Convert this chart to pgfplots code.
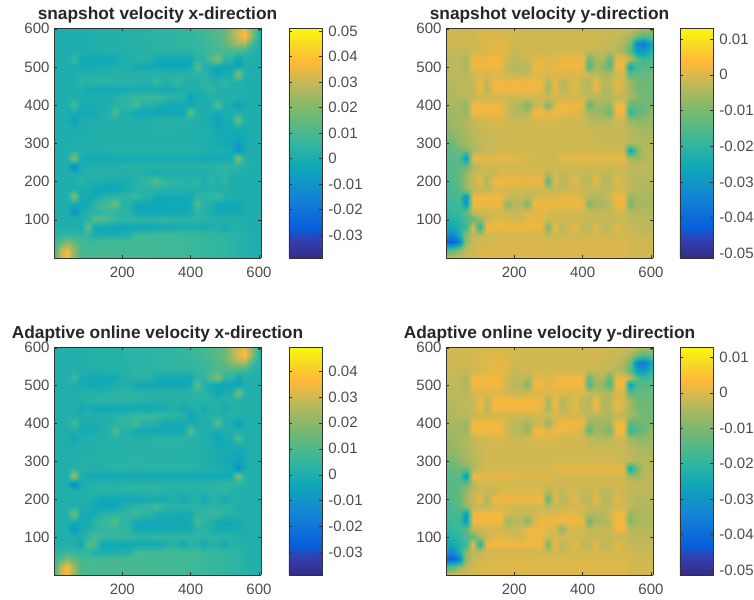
\documentclass[border=0pt]{standalone}
\usepackage{fontspec}
\setmainfont{Liberation Sans}
\usepackage{pgfplots}
\usepgfplotslibrary{patchplots}
\pgfplotsset{compat=1.18}
\pgfplotsset{colormap={parula}{
rgb(0pt)=(0.21,0.17,0.53);
rgb(8pt)=(0.2,0.25,0.7);
rgb(13pt)=(0.03,0.37,0.86);
rgb(27pt)=(0.08,0.52,0.83);
rgb(40pt)=(0.06,0.66,0.72);
rgb(51pt)=(0.22,0.72,0.61);
rgb(65pt)=(0.5,0.72,0.42);
rgb(76pt)=(0.76,0.72,0.35);
rgb(85pt)=(1.0,0.72,0.22);
rgb(93pt)=(0.97,0.85,0.15);
rgb(100pt)=(0.98,0.98,0.05)}}
\newcount\gx
\newcommand\startgrid{\gdef\gridlist{}}
\newcommand\G[2]{\gx=0
 \pgfplotsforeachungrouped \gv in {#2}{%
  \xdef\gridlist{\gridlist(\the\gx,#1,\gv e-3) }\xdef\lastv{\gv}%
  \advance\gx by 20 }%
 \xdef\gridlist{\gridlist(606,#1,\lastv e-3) }}
% --- snapshot velocity x-direction, values in units of 0.001 ---
\startgrid
\G{602}{1,1,1,1,1,1,2,2,2,2,2,3,3,3,3,4,4,4,5,5,6,7,8,10,12,15,24,30,34,20,4}
\G{580}{1,1,1,1,1,1,2,2,2,2,2,3,3,3,3,4,4,4,5,5,6,7,8,10,12,15,24,32,40,22,3}
\G{560}{1,1,1,1,1,1,2,2,2,2,2,3,3,3,3,4,4,4,4,5,5,6,7,9,11,13,20,24,26,9,2}
\G{540}{1,1,1,1,1,1,1,1,2,2,2,2,3,3,3,3,4,4,4,4,4,5,6,8,10,10,10,9,7,2,1}
\G{520}{1,1,1,7,-2,-2,-3,-3,-3,-3,1,2,3,3,3,-2,-3,-3,-3,-3,-3,3,5,11,22,5,4,-5,2,1,1}
\G{500}{1,1,1,-1,-2,-2,-1,0,0,1,1,1,-2,-3,-3,-3,-3,-3,-3,-3,-2,14,1,0,-4,-4,-4,-4,1,1,1}
\G{480}{1,1,1,1,2,2,2,2,2,3,3,3,3,3,3,3,3,3,3,3,3,3,3,1,-4,-1,1,22,2,1,1}
\G{460}{1,1,1,1,5,3,4,4,4,3,3,3,3,2,2,7,2,2,7,2,2,2,6,2,2,6,2,2,1,1,1}
\G{440}{1,1,1,1,0,-2,-2,-2,-2,-2,-2,-1,-1,-1,-1,-1,-2,-2,0,1,2,2,2,7,2,2,2,2,1,1,1}
\G{420}{1,1,1,1,1,1,1,1,1,2,4,5,7,8,8,7,7,4,3,3,-5,-1,1,2,2,2,2,2,1,1,1}
\G{400}{1,1,1,9,-1,-1,0,1,1,3,4,5,10,2,3,1,-2,-2,-2,-2,-2,0,1,1,13,1,0,-6,0,1,1}
\G{380}{1,1,0,0,-2,-2,-2,1,2,11,2,2,-3,-3,-3,-3,-3,-3,-3,-3,14,1,1,0,-1,0,1,1,1,1,1}
\G{360}{1,1,0,-6,0,1,2,2,2,2,2,2,2,2,2,3,3,3,3,3,2,2,1,-1,-6,-1,0,16,1,1,1}
\G{340}{1,1,1,0,1,1,1,2,2,2,2,2,2,2,2,3,3,3,3,2,2,2,1,0,-2,-2,-1,0,0,1,1}
\G{320}{1,1,1,1,1,1,2,2,2,2,2,2,2,2,2,2,2,2,2,2,2,2,1,0,-1,-2,-2,-3,-1,1,1}
\G{300}{1,1,1,1,2,2,2,2,2,2,2,2,2,2,2,2,2,2,2,2,2,2,1,0,-1,-2,-3,-7,-2,1,1}
\G{280}{1,1,1,3,2,2,2,2,3,3,3,3,3,3,3,3,3,3,3,3,3,3,2,1,1,0,-1,-11,-1,1,1}
\G{260}{1,1,1,22,-1,-2,-2,-2,-2,-2,-2,-2,-2,-2,-2,-2,-2,-2,-2,-2,-2,-2,-2,-2,-2,-2,-2,20,2,1,1}
\G{240}{1,1,0,-14,0,1,2,2,2,2,3,3,3,3,3,3,3,3,3,3,3,3,3,3,4,5,4,4,2,1,1}
\G{220}{1,1,1,1,1,3,4,3,3,3,2,2,2,2,1,-3,0,1,1,1,1,1,1,2,3,4,2,2,1,1,1}
\G{200}{1,1,1,1,4,1,2,1,-1,-1,-1,0,3,5,6,14,7,6,4,4,3,5,0,5,0,6,0,1,1,1,1}
\G{180}{1,1,1,1,0,1,-4,-4,-4,-4,-1,1,2,3,3,3,3,2,2,2,2,2,2,2,2,2,1,1,1,1,1}
\G{160}{1,1,1,22,-2,-2,-2,3,3,4,4,5,8,3,3,-2,-2,-2,-2,-2,-2,4,4,5,8,3,2,1,1,1,1}
\G{140}{1,1,0,-2,-2,-2,5,8,10,17,3,3,-3,-3,-3,-3,-3,-3,-3,-3,-2,12,3,2,-3,-3,-3,-3,0,1,1}
\G{120}{1,1,0,-11,-1,2,4,6,6,5,4,4,-3,-3,-3,-3,-3,-2,-2,-2,-1,3,2,1,-2,-2,-2,-2,0,1,1}
\G{100}{1,1,1,1,1,3,14,12,10,6,5,5,5,4,4,5,5,4,4,4,4,4,3,3,3,3,3,2,1,1,1}
\G{80}{1,1,1,1,-1,16,-3,-3,-3,-3,-3,-3,-3,-3,-3,-2,-1,-2,-1,-1,0,0,-1,1,1,-2,2,2,1,1,1}
\G{60}{3,4,5,5,5,5,0,0,0,0,1,1,8,8,8,8,8,8,8,8,7,7,6,6,5,5,4,3,2,1,1}
\G{40}{4,12,20,14,8,8,8,9,9,9,9,9,9,9,9,8,8,8,8,8,7,7,6,6,5,5,4,3,2,1,1}
\G{20}{5,28,36,22,10,9,9,9,9,9,9,9,9,9,9,8,8,8,8,8,7,7,6,6,5,5,4,3,2,1,1}
\G{0}{5,30,38,22,10,9,9,9,9,9,9,9,9,9,9,8,8,8,8,8,7,7,6,6,5,5,4,3,2,1,1}
\global\let\gridA\gridlist
% --- snapshot velocity y-direction ---
\startgrid
\G{602}{-1,-1,-1,-1,-1,-1,-1,-1,-1,-1,-1,-1,-1,-1,-1,-1,-1,-1,-1,-1,-1,-1,-1,-1,-1,-1,-1,-2,-3,-5,-6}
\G{580}{-1,-1,-1,-1,-1,0,0,0,0,0,-1,-1,-1,-1,-1,-1,-1,-1,-1,-1,-1,-1,-1,-1,-2,-2,-3,-5,-11,-15,-12}
\G{560}{-1,-1,-1,-1,-1,0,0,1,1,0,-1,-1,-1,-1,-1,-1,-1,-1,-1,-1,-1,-1,-1,-2,-2,-3,-5,-11,-34,-38,-28}
\G{540}{-2,-2,-2,-2,-1,-1,0,1,1,0,-2,-1,-1,-1,-1,-1,-1,-1,-1,-1,-1,-2,-2,-3,-3,-4,-6,-14,-28,-30,-22}
\G{520}{-3,-3,-3,-5,2,2,2,2,2,-1,-3,-2,-1,0,1,0,1,2,2,2,2,-12,-5,-4,-14,1,2,-2,-14,-18,-16}
\G{500}{-3,-3,-3,-5,2,2,2,2,2,-2,-5,-3,-5,2,2,0,2,2,2,2,2,-16,-6,-8,-16,2,2,-28,-16,-15,-14}
\G{480}{-4,-3,-3,-4,-1,0,0,0,0,-1,-2,-2,-1,0,0,0,0,0,0,0,0,-2,-3,-4,-4,-1,-1,-14,-13,-13,-12}
\G{460}{-4,-4,-3,-3,-2,2,-3,2,2,2,2,2,2,2,2,-5,2,-4,-2,1,-3,-4,2,-4,-4,1,-1,-6,-11,-12,-12}
\G{440}{-5,-4,-3,-3,-2,2,-4,2,2,2,2,2,2,2,1,-6,2,-4,-1,1,-3,-4,2,-4,-4,1,-1,-6,-11,-12,-12}
\G{420}{-5,-4,-4,-3,-2,-1,-1,-1,-1,-1,-1,-1,-1,-1,-1,-1,-1,-1,-1,-1,-1,-3,-4,-4,-4,-3,-3,-5,-8,-11,-11}
\G{400}{-6,-5,-5,-8,2,2,2,2,2,-1,-4,-5,-10,-2,-1,-10,0,2,2,2,2,-14,-6,-6,-8,2,2,-14,-13,-12,-11}
\G{380}{-6,-6,-6,-7,2,2,2,2,2,-2,-4,-4,-5,2,2,1,2,2,1,1,-1,-6,-6,-7,-12,2,2,-20,-14,-12,-8}
\G{360}{-7,-6,-5,-5,-2,-1,-1,0,0,-1,-2,-2,-1,0,0,0,0,-1,-1,-1,-1,-3,-4,-4,-4,-1,-1,-7,-8,-8,-7}
\G{340}{-8,-7,-6,-4,-3,-2,-1,-1,-1,-1,-1,-1,-1,-1,-1,-1,-1,-1,-1,-1,-1,-2,-2,-2,-2,-2,-2,-4,-5,-6,-6}
\G{320}{-11,-8,-7,-5,-3,-2,-2,-2,-1,-1,-1,-1,-1,-1,-1,-1,-1,-1,-1,-1,-1,-1,-2,-2,-2,-2,-2,-4,-4,-5,-5}
\G{300}{-13,-12,-8,-6,-4,-3,-2,-2,-1,-1,-1,-1,-1,-1,-1,-1,-1,-1,-1,-1,-1,-1,-1,-2,-2,-2,-2,-4,-4,-4,-4}
\G{280}{-14,-13,-12,-11,-5,-3,-2,-2,-1,-1,-1,-1,-1,-1,-1,-1,-1,-1,-1,-1,-1,-1,-1,-1,-1,-1,-1,-28,-12,-4,-4}
\G{260}{-15,-14,-14,-30,2,1,1,1,1,1,1,0,0,-1,-1,-1,-1,1,1,1,1,1,1,1,1,1,2,-6,-6,-4,-3}
\G{240}{-15,-15,-14,-12,-4,-2,-1,-1,-1,-1,-1,-1,-1,-1,-1,-1,-1,-1,-1,-1,-1,-1,-1,-1,-1,-1,-1,-2,-3,-3,-3}
\G{220}{-15,-15,-13,-7,-3,-1,-2,-3,0,0,0,0,0,0,0,-4,-1,-3,-1,-1,-2,-2,-1,-3,-3,-1,-2,-3,-3,-3,-3}
\G{200}{-16,-15,-13,-6,-2,2,-5,2,2,2,2,1,2,2,2,-14,1,-4,-2,1,-3,-4,2,-4,-4,1,-1,-3,-4,-4,-4}
\G{180}{-17,-16,-14,-7,-3,-2,-3,-1,0,-1,-1,-1,-1,-1,-1,-3,-2,-2,-1,-1,-1,-2,-2,-3,-3,-1,-1,-3,-4,-4,-4}
\G{160}{-18,-17,-16,-30,2,2,2,2,2,-1,-2,-2,-3,-1,0,0,0,1,1,1,-1,-4,-4,-4,-1,2,2,-8,-5,-5,-5}
\G{140}{-19,-18,-17,-30,2,2,2,2,2,-8,-4,-4,-10,2,2,2,2,2,2,2,2,-9,-5,-5,-4,2,2,-10,-5,-5,-5}
\G{120}{-20,-19,-18,-14,-2,-1,-1,-1,-1,-2,-2,-1,0,1,1,0,-1,-1,-1,-1,-1,-2,-2,-2,-2,-1,-1,-4,-4,-4,-4}
\G{100}{-23,-22,-20,-16,-13,-6,-2,0,1,0,-1,-1,1,1,1,-1,-1,-1,-1,-1,-1,-2,-2,-2,-2,-2,-2,-3,-3,-3,-3}
\G{80}{-26,-25,-22,-18,1,-22,2,2,2,2,2,2,2,2,2,-10,2,-4,-1,1,-3,-3,1,-3,-3,1,-1,-2,-3,-3,-3}
\G{60}{-32,-34,-24,-8,-3,-3,-1,-1,-1,-1,-1,-1,-1,-1,-1,-2,-1,-2,-1,-1,-1,-1,-1,-1,-1,-1,-1,-1,-2,-2,-2}
\G{40}{-42,-42,-36,-7,-2,-1,-1,0,0,0,0,0,0,0,0,0,0,0,0,0,0,0,0,0,0,0,0,-1,-1,-1,-1}
\G{20}{-16,-14,-8,-3,-1,0,0,0,0,0,0,0,0,0,0,0,0,0,0,0,0,0,0,0,0,0,0,-1,-1,-1,-1}
\G{0}{-2,-2,-1,-1,-1,0,0,0,0,0,0,0,0,0,0,0,0,0,0,0,0,0,0,0,0,0,0,-1,-1,-1,-1}
\global\let\gridB\gridlist
% --- adaptive online velocity x-direction ---
\startgrid
\G{602}{1,1,1,1,1,1,2,2,2,2,2,3,3,3,3,4,4,4,5,5,6,7,8,10,12,15,24,30,33,20,4}
\G{580}{1,1,1,1,1,1,2,2,2,2,2,3,3,3,3,4,4,4,5,5,6,7,8,10,12,15,24,32,38,22,3}
\G{560}{1,1,1,1,1,1,2,2,2,2,2,3,3,3,3,4,4,4,4,5,5,6,7,9,11,13,20,24,26,9,2}
\G{540}{1,1,1,1,1,1,1,1,2,2,2,2,3,3,3,3,4,4,4,4,4,5,6,8,10,10,10,9,7,2,1}
\G{520}{1,1,1,7,-1,-2,-3,-3,-3,-3,1,2,3,3,3,-2,-3,-3,-3,-3,-3,3,5,11,20,4,3,-5,2,1,1}
\G{500}{1,1,1,-1,-2,-2,-3,-2,-1,1,1,1,-3,-3,-3,-3,-3,-3,-3,-3,-2,13,1,-1,-5,-4,-4,-4,0,1,1}
\G{480}{1,1,1,1,2,2,2,2,2,3,3,3,3,3,3,3,3,3,3,3,3,3,3,1,-4,0,1,18,2,1,1}
\G{460}{1,1,1,1,1,2,3,3,3,3,3,3,3,2,2,2,2,2,2,2,2,2,2,2,2,2,2,2,1,1,1}
\G{440}{1,1,1,1,-3,0,-3,-3,-3,-3,-3,-3,-3,-3,-3,-2,-3,1,1,-3,1,2,-3,2,2,-3,2,2,1,1,1}
\G{420}{1,1,1,1,1,1,1,1,1,2,3,4,6,7,7,6,6,4,3,3,-5,-1,1,2,2,2,2,2,1,1,1}
\G{400}{1,1,1,8,-1,-1,0,1,1,3,4,5,9,2,3,1,-2,-2,-2,-2,-2,0,1,1,13,1,0,-6,0,1,1}
\G{380}{1,1,0,0,-2,-2,-2,1,2,11,2,2,-3,-3,-3,-3,-3,-3,-3,-3,13,1,1,0,-1,0,1,1,1,1,1}
\G{360}{1,1,0,-4,0,1,2,2,2,2,2,2,2,2,2,3,3,3,3,3,2,2,1,-1,-5,-1,0,10,1,1,1}
\G{340}{1,1,1,0,1,1,1,2,2,2,2,2,2,2,2,3,3,3,3,2,2,2,1,0,-2,-2,-1,-1,0,1,1}
\G{320}{1,1,1,1,1,1,2,2,2,2,2,2,2,2,2,2,2,2,2,2,2,2,1,0,-1,-2,-2,-3,-1,1,1}
\G{300}{1,1,1,1,2,2,2,2,2,2,2,3,3,3,2,2,2,2,2,2,2,2,1,0,-1,-2,-3,-6,-2,1,1}
\G{280}{1,1,1,3,2,2,2,2,3,3,3,3,3,3,3,3,3,3,3,3,3,3,2,1,1,-1,-2,-13,-2,1,1}
\G{260}{1,1,1,25,-1,-2,-3,-3,-3,-3,-3,-3,-3,-3,-3,-3,-3,-3,-3,-3,-3,-3,-3,-3,-3,-3,-2,18,2,1,1}
\G{240}{1,1,0,-16,-1,1,2,2,2,2,3,3,3,3,3,3,3,3,3,3,3,3,3,3,4,5,4,4,2,1,1}
\G{220}{1,1,1,1,1,2,3,3,3,3,3,3,3,3,3,4,2,2,2,2,2,2,2,3,3,5,2,2,1,1,1}
\G{200}{1,1,1,1,0,1,-1,-3,-3,-3,-3,-3,-3,-2,-2,-2,-2,0,1,-3,1,2,-3,2,2,-3,2,1,1,1,1}
\G{180}{1,1,1,1,1,1,-4,-4,-4,-4,0,2,3,4,4,9,4,3,3,3,3,3,3,3,3,3,2,1,1,1,1}
\G{160}{1,1,1,18,-2,-2,-2,3,3,4,4,5,8,4,4,-1,-1,-2,-2,-2,-2,4,4,5,7,3,2,1,1,1,1}
\G{140}{1,1,0,-2,-2,-2,4,6,8,13,3,3,-3,-3,-3,-3,-3,-3,-3,-3,-2,10,3,2,-3,-3,-3,-2,0,1,1}
\G{120}{1,1,0,-10,-1,1,3,5,5,5,4,4,-3,-3,-3,-3,-3,-2,-2,-2,-2,3,2,1,-2,-2,-2,-2,0,1,1}
\G{100}{1,1,1,1,1,3,10,6,5,6,5,5,5,4,4,5,5,4,4,4,4,4,3,3,3,3,3,2,1,1,1}
\G{80}{1,1,1,1,-4,10,10,-3,-3,-3,-3,-3,-3,-3,-3,-3,-2,2,2,-3,2,2,-3,2,2,-3,2,2,1,1,1}
\G{60}{3,4,5,5,5,5,0,0,0,0,1,1,8,8,8,8,8,8,8,8,7,7,6,6,5,5,4,3,2,1,1}
\G{40}{4,12,20,14,8,8,8,9,9,9,9,9,9,9,9,8,8,8,8,8,7,7,6,6,5,5,4,3,2,1,1}
\G{20}{5,26,36,22,10,9,9,9,9,9,9,9,9,9,9,8,8,8,8,8,7,7,6,6,5,5,4,3,2,1,1}
\G{0}{5,30,36,22,10,9,9,9,9,9,9,9,9,9,9,8,8,8,8,8,7,7,6,6,5,5,4,3,2,1,1}
\global\let\gridC\gridlist
% --- adaptive online velocity y-direction ---
\startgrid
\G{602}{-1,-1,-1,-1,-1,-1,-1,-1,-1,-1,-1,-1,-1,-1,-1,-1,-1,-1,-1,-1,-1,-1,-1,-1,-1,-1,-1,-2,-3,-5,-6}
\G{580}{-1,-1,-1,-1,-1,0,0,0,0,0,-1,-1,-1,-1,-1,-1,-1,-1,-1,-1,-1,-1,-1,-1,-2,-2,-3,-5,-11,-15,-12}
\G{560}{-1,-1,-1,-1,-1,0,0,1,1,0,-1,-1,-1,-1,-1,-1,-1,-1,-1,-1,-1,-1,-1,-2,-2,-3,-5,-11,-34,-38,-28}
\G{540}{-2,-2,-2,-2,-1,-1,0,1,1,0,-2,-1,-1,-1,-1,-1,-1,-1,-1,-1,-1,-2,-2,-3,-3,-4,-6,-14,-28,-30,-22}
\G{520}{-2,-2,-2,-5,2,2,2,2,2,-1,-3,-2,-5,0,1,0,1,2,2,2,2,-13,-5,-4,-13,1,2,-2,-14,-18,-16}
\G{500}{-3,-3,-3,-5,2,2,2,2,2,-2,-4,-3,-10,2,2,0,2,2,2,2,2,-16,-6,-8,-16,2,2,-28,-16,-15,-14}
\G{480}{-4,-3,-3,-4,-1,0,0,0,0,-1,-2,-2,-1,0,0,0,0,0,0,0,0,-2,-3,-4,-4,-1,-1,-14,-13,-13,-12}
\G{460}{-4,-4,-3,-3,-2,2,-3,2,2,2,2,2,2,2,2,-5,2,-4,-2,1,-3,-4,2,-4,-4,1,-1,-6,-11,-12,-12}
\G{440}{-5,-4,-3,-3,-2,2,-4,2,2,2,2,2,2,2,1,-6,2,-4,-1,1,-3,-4,2,-4,-4,1,-1,-6,-11,-12,-12}
\G{420}{-5,-4,-4,-3,-2,-1,-1,-1,-1,-1,-1,-1,-1,-1,-1,-1,-1,-1,-1,-1,-1,-3,-4,-4,-4,-3,-3,-5,-8,-11,-11}
\G{400}{-6,-5,-5,-7,2,2,2,2,2,-1,-3,-4,-6,-2,-1,-8,0,2,2,2,2,-8,-6,-6,-7,2,2,-14,-13,-12,-11}
\G{380}{-6,-6,-6,-7,2,2,2,2,2,-2,-4,-4,-8,2,2,1,2,2,1,1,-1,-14,-6,-7,-12,2,2,-20,-14,-12,-8}
\G{360}{-7,-6,-5,-5,-2,-1,-1,0,0,-1,-2,-2,-1,0,0,0,0,-1,-1,-1,-1,-3,-4,-4,-4,-1,-1,-7,-8,-8,-7}
\G{340}{-8,-7,-6,-4,-3,-2,-1,-1,-1,-1,-1,-1,-1,-1,-1,-1,-1,-1,-1,-1,-1,-2,-2,-2,-2,-2,-2,-4,-5,-6,-6}
\G{320}{-8,-8,-7,-5,-3,-2,-1,-1,-1,-1,-1,-1,-1,-1,-1,-1,-1,-1,-1,-1,-1,-1,-1,-1,-1,-2,-2,-3,-4,-5,-5}
\G{300}{-12,-11,-8,-6,-4,-2,-1,-1,-1,-1,-1,-1,-1,-1,-1,-1,-1,-1,-1,-1,-1,-1,-1,-1,-1,-1,-2,-3,-4,-4,-4}
\G{280}{-14,-13,-12,-11,-5,-2,-1,-1,-1,-1,-1,-1,-1,-1,-1,-1,1,1,1,1,1,1,1,1,1,1,2,-28,-12,-4,-4}
\G{260}{-15,-14,-14,-30,2,1,1,1,1,1,1,0,0,0,0,0,-1,-1,-1,-1,-1,-1,-1,-1,-1,-1,-1,-6,-6,-4,-3}
\G{240}{-15,-15,-14,-12,-4,-1,-1,-1,-1,-1,-1,-1,-1,-1,-1,-1,-1,-1,-1,-1,-1,-1,-1,-1,-1,-1,-1,-2,-3,-3,-3}
\G{220}{-15,-15,-13,-7,-3,-1,-2,-3,0,0,0,0,0,0,0,-4,-1,-3,-1,-1,-2,-2,-1,-3,-3,-1,-2,-3,-3,-3,-3}
\G{200}{-16,-15,-13,-6,-2,2,-5,2,2,2,2,1,2,2,2,-13,1,-4,-2,1,-3,-4,2,-4,-4,1,-1,-3,-4,-4,-4}
\G{180}{-17,-16,-14,-7,-3,-2,-3,-1,0,-1,-1,-1,-1,-1,-1,-3,-2,-2,-1,-1,-1,-2,-2,-3,-3,-1,-1,-3,-4,-4,-4}
\G{160}{-18,-17,-16,-30,2,2,2,2,2,-1,-2,-2,-3,-1,0,0,0,1,1,1,-1,-4,-4,-4,-1,2,2,-8,-5,-5,-5}
\G{140}{-19,-18,-17,-30,2,2,2,2,2,-7,-4,-4,-10,-1,2,2,2,2,2,2,2,-13,-5,-5,-4,2,2,-10,-5,-5,-5}
\G{120}{-20,-19,-18,-14,-2,-1,-1,-1,-1,-2,-2,-1,2,2,2,0,-1,-8,-1,-1,-1,-2,-2,-2,-2,2,2,-4,-4,-4,-4}
\G{100}{-23,-22,-20,-16,-13,-6,-2,0,1,0,-1,-1,1,1,1,-1,-1,-1,-1,-1,-1,-2,-2,-2,-2,-2,-2,-3,-3,-3,-3}
\G{80}{-26,-25,-22,-18,1,-22,2,2,2,2,2,2,2,2,2,-10,2,-4,-1,1,-3,-3,1,-3,-3,1,-1,-2,-3,-3,-3}
\G{60}{-32,-34,-24,-8,-3,-3,-1,-1,-1,-1,-1,-1,-1,-1,-1,-2,-1,-2,-1,-1,-1,-1,-1,-1,-1,-1,-1,-1,-2,-2,-2}
\G{40}{-42,-42,-36,-7,-2,-1,-1,0,0,0,0,0,0,0,0,0,0,0,0,0,0,0,0,0,0,0,0,-1,-1,-1,-1}
\G{20}{-16,-14,-8,-3,-1,0,0,0,0,0,0,0,0,0,0,0,0,0,0,0,0,0,0,0,0,0,0,-1,-1,-1,-1}
\G{0}{-2,-2,-1,-1,-1,0,0,0,0,0,0,0,0,0,0,0,0,0,0,0,0,0,0,0,0,0,0,-1,-1,-1,-1}
\global\let\gridD\gridlist
\definecolor{tk}{gray}{0.3}
\pgfplotsset{mypanel/.style={
  anchor=south west, scale only axis, width=207pt, view={0}{90},
  colormap name=parula, axis on top,
  xmin=0, xmax=606, ymin=0, ymax=602,
  xtick={200,400,600}, ytick={100,200,300,400,500,600},
  xticklabels={200,400,600}, yticklabels={100,200,300,400,500,600},
  tick align=inside, major tick length=3pt, tick style={black!80, line width=0.5pt},
  xticklabel pos=lower, yticklabel pos=left,
  axis line style={black!80, line width=0.8pt},
  tick label style={font=\fontsize{15}{17}\selectfont, text=tk},
  xticklabel style={yshift=-5pt}, yticklabel style={xshift=-1pt},
  title style={font=\fontsize{17.3}{19}\bfseries\selectfont, yshift=-5pt, text=black!85},
  colorbar, colorbar/width=33pt, colorbar style={
    anchor=north west,
    scaled y ticks=false,
    tick align=inside, major tick length=3pt,
    tick style={black!80, line width=0.5pt},
    axis line style={black!80, line width=0.8pt},
    tick label style={font=\fontsize{15}{17}\selectfont, text=tk},
    yticklabel pos=right,
    yticklabel style={xshift=3pt, yshift=0pt, anchor=west}}
}}
\newcommand\surfplot[1]{\begingroup\edef\x{\endgroup\noexpand\addplot3[surf,shader=interp,patch type=bilinear,mesh/cols=32,mesh/ordering=x varies] coordinates {#1};}\x}
\begin{document}
\begin{tikzpicture}
\path[use as bounding box] (0pt,0pt) rectangle (754pt,599pt);
\begin{axis}[mypanel, at={(54pt,341pt)}, height=230pt, title={snapshot velocity x-direction},
  point meta min=-0.039, point meta max=0.0512,
  colorbar style={at={(1.135,1)}, ytick={-0.03,-0.02,-0.01,0,0.01,0.02,0.03,0.04,0.05},
   yticklabels={-0.03,-0.02,-0.01,0,0.01,0.02,0.03,0.04,0.05}}]
\surfplot{\gridA}
\end{axis}
\begin{axis}[mypanel, at={(446pt,341pt)}, height=230pt, title={snapshot velocity y-direction},
  point meta min=-0.0513, point meta max=0.0131,
  colorbar style={at={(1.13,1)}, ytick={-0.05,-0.04,-0.03,-0.02,-0.01,0,0.01},
   yticklabels={-0.05,-0.04,-0.03,-0.02,-0.01,0,0.01}}]
\surfplot{\gridB}
\end{axis}
\begin{axis}[mypanel, at={(54pt,24pt)}, height=228pt, title={Adaptive online velocity x-direction},
  point meta min=-0.0386, point meta max=0.0492,
  colorbar style={at={(1.135,1)}, ytick={-0.03,-0.02,-0.01,0,0.01,0.02,0.03,0.04},
   yticklabels={-0.03,-0.02,-0.01,0,0.01,0.02,0.03,0.04}}]
\surfplot{\gridC}
\end{axis}
\begin{axis}[mypanel, at={(446pt,24pt)}, height=228pt, title={Adaptive online velocity y-direction},
  point meta min=-0.0514, point meta max=0.0129,
  colorbar style={at={(1.13,1)}, ytick={-0.05,-0.04,-0.03,-0.02,-0.01,0,0.01},
   yticklabels={-0.05,-0.04,-0.03,-0.02,-0.01,0,0.01}}]
\surfplot{\gridD}
\end{axis}
\end{tikzpicture}
\end{document}
